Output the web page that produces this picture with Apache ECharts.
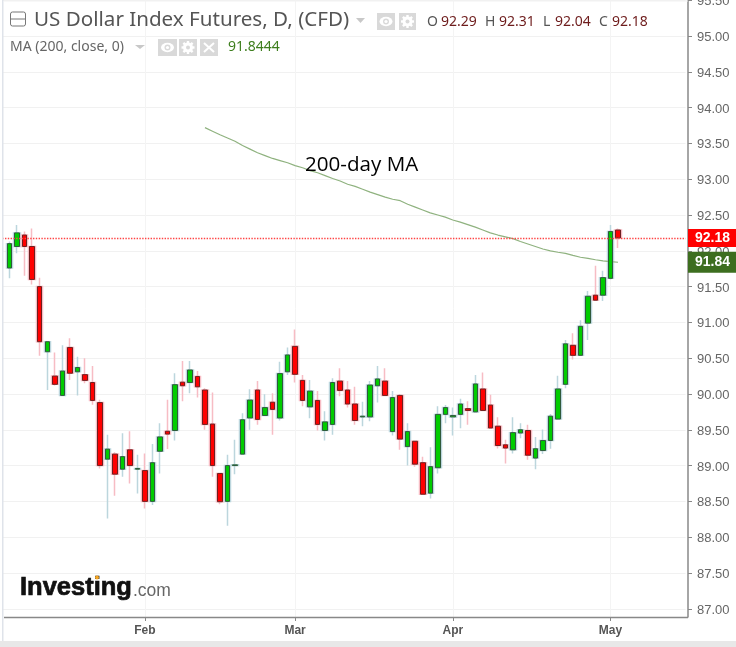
<!DOCTYPE html>
<html><head><meta charset="utf-8">
<style>html,body{margin:0;padding:0;background:#fff}#c{width:736px;height:647px}</style>
<script src="https://cdn.jsdelivr.net/npm/echarts@6/dist/echarts.min.js"></script>
</head><body><div id="c"></div>
<script>
var opens=[91.76,92.06,92.22,92.06,91.50,90.59,90.25,89.98,90.65,90.31,90.27,90.16,89.88,89.09,89.16,88.95,89.22,88.95,88.93,88.50,89.20,89.48,89.49,90.165,90.16,90.245,90.055,89.58,88.89,88.50,89.00,89.16,89.665,90.055,89.70,89.885,89.665,90.31,90.665,90.19,89.82,89.91,89.49,89.575,90.18,90.055,89.86,89.68,89.68,90.115,90.18,89.475,89.98,89.265,89.34,89.04,88.615,88.97,89.715,89.68,89.715,89.795,89.75,90.07,89.845,89.55,89.29,89.22,89.455,89.49,89.105,89.21,89.35,89.65,90.135,90.68,90.54,90.99,91.38,91.38,91.615,92.29];
var closes=[92.10,92.25,92.06,91.60,90.73,90.73,90.135,90.32,90.29,90.37,90.19,89.91,89.00,89.23,88.88,89.125,89.00,88.96,88.50,89.04,89.40,89.44,90.13,90.115,90.335,90.10,89.575,89.00,88.495,89.00,89.01,89.64,89.915,89.645,89.81,89.785,90.285,90.545,90.275,89.91,90.04,89.575,89.61,90.16,90.05,89.86,89.63,89.69,90.125,90.21,89.98,89.95,89.37,89.475,89.02,88.60,88.985,89.715,89.81,89.70,89.86,89.77,90.14,89.77,89.525,89.28,89.245,89.46,89.50,89.145,89.235,89.35,89.69,90.07,90.70,90.54,90.945,91.365,91.31,91.625,92.27,92.18];
var lows=[91.615,91.965,91.65,91.53,90.535,90.055,90.12,89.975,90.195,89.98,90.15,89.85,88.96,88.26,88.58,88.845,88.75,88.61,88.40,88.45,88.89,89.23,89.35,89.90,90.01,89.95,89.50,88.845,88.46,88.16,88.88,89.16,89.50,89.57,89.695,89.43,89.63,90.265,90.16,89.83,89.66,89.49,89.35,89.43,89.97,89.81,89.57,89.55,89.62,89.88,89.97,89.42,89.22,89.00,88.985,88.59,88.54,88.89,89.59,89.42,89.52,89.57,89.75,89.77,89.52,89.24,89.03,89.17,89.38,89.08,88.95,89.16,89.235,89.65,90.08,90.48,90.54,90.755,91.31,91.30,91.60,92.04];
var highs=[92.13,92.36,92.27,92.31,91.625,90.74,90.58,90.68,90.78,90.52,90.50,90.39,89.92,89.43,89.185,89.45,89.48,89.15,89.17,89.30,89.59,89.92,90.29,90.46,90.46,90.32,90.08,90.02,88.89,89.15,89.36,89.73,90.065,90.18,89.995,90.01,90.45,90.65,90.90,90.265,90.195,90.04,89.76,90.22,90.36,90.18,90.10,89.89,90.18,90.39,90.36,90.04,90.00,89.59,89.34,89.125,89.255,89.83,89.845,89.81,89.935,89.90,90.265,90.30,89.99,89.675,89.36,89.675,89.59,89.57,89.40,89.505,89.72,90.255,90.755,90.85,91.03,91.44,91.79,91.72,92.36,92.31];
var ma200=[93.72,93.67,93.62,93.575,93.53,93.47,93.42,93.37,93.33,93.29,93.26,93.23,93.19,93.16,93.12,93.09,93.05,93.01,92.975,92.93,92.90,92.86,92.82,92.785,92.75,92.72,92.70,92.65,92.61,92.57,92.53,92.50,92.47,92.43,92.40,92.365,92.33,92.29,92.25,92.22,92.195,92.17,92.13,92.095,92.06,92.025,92.00,91.98,91.965,91.935,91.91,91.895,91.875,91.86,91.85,91.84];
var maStart=26;
var monthNames=['Feb','Mar','Apr','May'];
var monthBars=[18,38,59,80];
var yTicks=[87,87.5,88,88.5,89,89.5,90,90.5,91,91.5,92,92.5,93,93.5,94,94.5,95,95.5];
var lastClose=92.18, lastMA=91.84;

var pad=1, tail=9;
var cats=[];
for(var i=0;i<pad+opens.length+tail;i++){var m=monthBars.indexOf(i-pad);cats.push(m>=0?monthNames[m]:'');}
var blank=['-','-','-','-'];
var wick=[blank],body=[blank],maData=[null];
opens.forEach(function(o,i){
  var c=closes[i];
  wick.push([o,c,lows[i],highs[i]]);
  body.push([o,c,Math.min(o,c),Math.max(o,c)]);
  maData.push(i<maStart?null:ma200[i-maStart]);
});
function isMonth(idx){return monthBars.indexOf(idx-pad)>=0;}
var GREY='#888';
function tx(x,y,t,s,c,extra){var st={text:t,font:s,fill:c,verticalAlign:'middle'};for(var k in (extra||{}))st[k]=extra[k];return {type:'text',x:x,y:y,z:50,style:st};}
function box(x,y,w,h){return {type:'rect',z:50,shape:{x:x,y:y,width:w,height:h},style:{fill:'#d9d9d9'}};}
function eye(cx,cy){return [
 {type:'circle',z:51,scaleY:.72,x:cx,y:cy,shape:{cx:0,cy:0,r:6.5},style:{fill:'#fff'}},
 {type:'circle',z:52,shape:{cx:cx,cy:cy,r:3},style:{fill:'#d9d9d9'}},
 {type:'circle',z:53,shape:{cx:cx,cy:cy,r:1.6},style:{fill:'#fff'}}];}
function gear(cx,cy){var a=[{type:'circle',z:51,shape:{cx:cx,cy:cy,r:5},style:{fill:'#fff'}},{type:'circle',z:52,shape:{cx:cx,cy:cy,r:2},style:{fill:'#d9d9d9'}}];
 [[0,-6.5,0,6.5],[-6.5,0,6.5,0],[-4.6,-4.6,4.6,4.6],[-4.6,4.6,4.6,-4.6]].forEach(function(p){a.push({type:'line',z:51,shape:{x1:cx+p[0],y1:cy+p[1],x2:cx+p[2],y2:cy+p[3]},style:{stroke:'#fff',lineWidth:2.4}});});return a;}
function tri(x,y,w,h){return {type:'polygon',z:50,shape:{points:[[x,y],[x+w,y],[x+w/2,y+h]]},style:{fill:'#c8c8c8'}};}
var HF='"Noto Sans", sans-serif';
var g=[
 {type:'rect',z:60,shape:{x:0,y:0,width:2,height:647},style:{fill:'#fff'}},
 {type:'rect',z:60,shape:{x:2,y:0,width:1.5,height:647},style:{fill:'#dfe3ea'}},
 {type:'rect',z:60,shape:{x:0,y:641,width:736,height:6},style:{fill:'#e8e8e8'}},
 {type:'line',z:40,shape:{x1:4,y1:617.5,x2:688,y2:617.5},style:{stroke:GREY,lineWidth:1.5}},
 {type:'line',z:1,shape:{x1:4,y1:1,x2:688,y2:1},style:{stroke:'#f1f1f1',lineWidth:1}},
 {type:'rect',z:50,shape:{x:10.5,y:12,width:15,height:14,r:2},style:{fill:'#fff',stroke:'#777',lineWidth:1}},
 {type:'line',z:51,shape:{x1:10.5,y1:19,x2:25.5,y2:19},style:{stroke:'#777',lineWidth:1}},
 tx(34,20,'US Dollar Index Futures, D, (CFD)','20.6px '+HF,'#555'),
 tri(356,18,9,5),
 box(377,13,18,17),box(399,13,17,17),
 tx(427,22,'O','14px '+HF,'#555'),tx(441,22,'92.29','14px '+HF,'#6e1c1c'),
 tx(485,22,'H','14px '+HF,'#555'),tx(499,22,'92.31','14px '+HF,'#6e1c1c'),
 tx(543,22,'L','14px '+HF,'#555'),tx(555,22,'92.04','14px '+HF,'#6e1c1c'),
 tx(599,22,'C','14px '+HF,'#555'),tx(612,22,'92.18','14px '+HF,'#6e1c1c'),
 tx(10,47,'MA (200, close, 0)','14px '+HF,'#666'),
 tri(135,45,10,4),
 box(158,39,19,17),box(179,39,18,17),box(200,39,18,17),
 {type:'line',z:51,shape:{x1:204,y1:43,x2:214,y2:52},style:{stroke:'#fff',lineWidth:2}},
 {type:'line',z:51,shape:{x1:214,y1:43,x2:204,y2:52},style:{stroke:'#fff',lineWidth:2}},
 tx(228,47,'91.8444','14px '+HF,'#3f7f1f'),
 tx(305,165,'200-day MA','20.6px "Open Sans", sans-serif','#000'),
 tx(20,588,'Investing','bold 25.5px "Liberation Sans", sans-serif','#111',{stroke:'#111',lineWidth:0.7}),
 tx(133,591,'.com','17.5px "Liberation Sans", sans-serif','#666'),
 {type:'circle',z:52,shape:{cx:97,cy:577.5,r:2},style:{fill:'#f5a623'}}
].concat(eye(386,21.5),gear(407.5,21.5),eye(167.5,47.5),gear(188,47.5));

var chart=echarts.init(document.getElementById('c'),null,{renderer:'canvas'});
chart.setOption({
 animation:false,backgroundColor:'#fff',
 grid:{left:2.2,right:50.4,top:0,bottom:30,outerBoundsMode:'none',containLabel:false},
 xAxis:{type:'category',data:cats,boundaryGap:false,
  axisLine:{show:false},
  axisTick:{alignWithLabel:true,interval:function(i){return isMonth(i);},length:4,lineStyle:{color:GREY}},
  axisLabel:{interval:function(i){return isMonth(i);},color:'#555',fontSize:12,fontWeight:'bold',fontFamily:'"Liberation Sans"',margin:8},
  splitLine:{show:true,interval:function(i){return isMonth(i);},lineStyle:{color:'#f4f4f4',width:1}}},
 yAxis:{type:'value',position:'right',offset:2.4,min:86.885,max:95.503,
  axisLine:{show:true,lineStyle:{color:GREY,width:1.5}},
  axisTick:{show:true,length:4,customValues:yTicks,lineStyle:{color:GREY}},
  axisLabel:{customValues:yTicks,margin:9,showMinLabel:true,showMaxLabel:true,
   formatter:function(v){return '{a|'+v.toFixed(2)+'}';},
   rich:{a:{color:'#666',fontSize:13,fontFamily:'"Liberation Sans"',height:17,lineHeight:20,verticalAlign:'bottom'}}},
  splitLine:{show:true,lineStyle:{color:'#f1f1f1',width:1}}},
 series:[
  {name:'Wicks',type:'candlestick',data:wick,barWidth:7,z:2,silent:true,
   itemStyle:{color:'rgba(0,0,0,0)',color0:'rgba(0,0,0,0)',borderColor:'#bcd6dd',borderColor0:'#f7bcc4',borderWidth:1.5},
   markLine:{silent:true,symbol:'none',animation:false,precision:2,z:6,
    lineStyle:{color:'#f44',type:'dotted',width:1.4},
    label:{show:true,position:'end',distance:2.4,formatter:function(p){return p.value.toFixed(2);},color:'#fff',fontSize:14,fontWeight:'bold',fontFamily:'"Liberation Sans"',backgroundColor:'#ff0000',padding:[2,7,2,7]},
    data:[{yAxis:lastClose}]}},
  {name:'US Dollar Index Futures',type:'candlestick',data:body,barWidth:5,z:4,
   itemStyle:{color:'#00cc00',color0:'#ff0000',borderColor:'#2f5a3c',borderColor0:'#6e2020',borderWidth:1}},
  {name:'MA (200, close, 0)',type:'line',data:maData,connectNulls:false,symbol:'none',z:3,
   lineStyle:{color:'#8fb27f',width:1.2},
   markLine:{silent:true,symbol:'none',animation:false,precision:2,z:7,
    lineStyle:{color:'rgba(0,0,0,0)',width:0},
    label:{show:true,position:'end',distance:2.4,formatter:function(p){return p.value.toFixed(2);},color:'#fff',fontSize:14,fontWeight:'bold',fontFamily:'"Liberation Sans"',backgroundColor:'#3d6e1f',padding:[4,7,3,7]},
    data:[{yAxis:lastMA}]}}
 ],
 graphic:g
});
</script></body></html>
